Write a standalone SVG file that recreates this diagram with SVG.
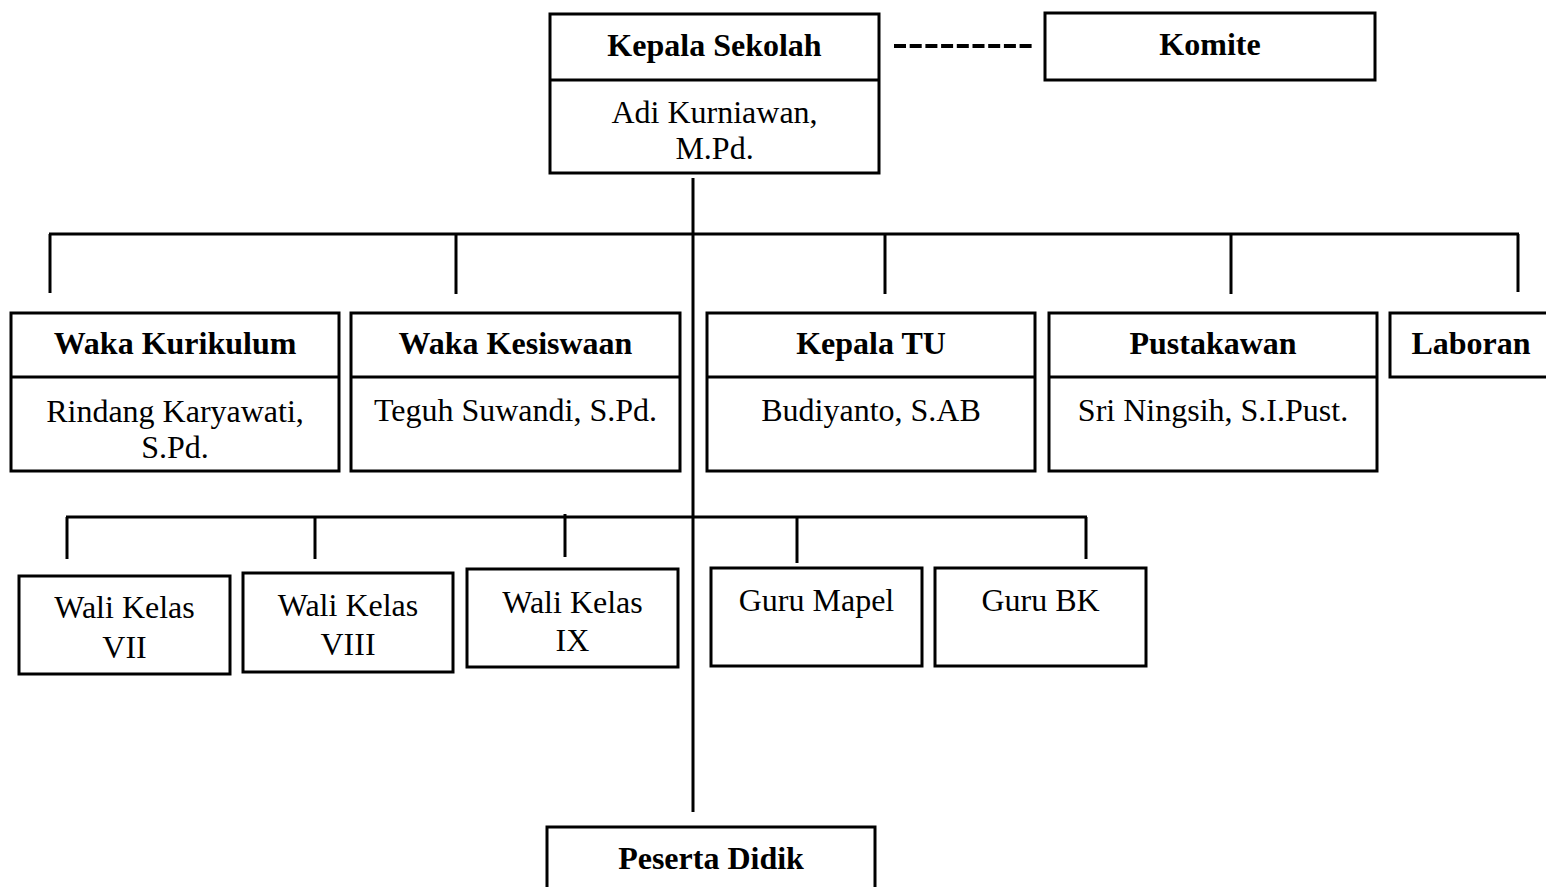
<svg xmlns="http://www.w3.org/2000/svg" width="1546" height="887" viewBox="0 0 1546 887">
<style>
.box{fill:#fff;stroke:#000;stroke-width:3}
.ln{stroke:#000;stroke-width:3;fill:none}
.b{font-family:"Liberation Serif","Times New Roman",serif;font-weight:bold;font-size:32px;text-anchor:middle;fill:#000}
.r{font-family:"Liberation Serif","Times New Roman",serif;font-size:32px;text-anchor:middle;fill:#000}
</style>
<rect width="1546" height="887" fill="#fff"/>
<g id="connectors">
<line class="ln" x1="693" y1="178" x2="693" y2="812"/>
<line class="ln" x1="49" y1="234" x2="1519" y2="234"/>
<line class="ln" x1="50" y1="234" x2="50" y2="293"/>
<line class="ln" x1="456" y1="234" x2="456" y2="294"/>
<line class="ln" x1="885" y1="234" x2="885" y2="294"/>
<line class="ln" x1="1231" y1="234" x2="1231" y2="294"/>
<line class="ln" x1="1518" y1="234" x2="1518" y2="292"/>
<line class="ln" x1="66" y1="517" x2="1087" y2="517"/>
<line class="ln" x1="67" y1="517" x2="67" y2="559"/>
<line class="ln" x1="315" y1="517" x2="315" y2="559"/>
<line class="ln" x1="565" y1="514" x2="565" y2="557"/>
<line class="ln" x1="797" y1="517" x2="797" y2="563"/>
<line class="ln" x1="1086" y1="517" x2="1086" y2="559"/>
<line x1="894" y1="46" x2="1033" y2="46" stroke="#000" stroke-width="4" stroke-dasharray="12 3.7"/>
</g>
<g id="kepala-sekolah">
<rect class="box" x="550" y="14" width="329" height="159"/>
<line class="ln" x1="550" y1="80" x2="879" y2="80"/>
<text class="b" x="714.5" y="56">Kepala Sekolah</text>
<text class="r" x="714.5" y="123">Adi Kurniawan,</text>
<text class="r" x="714.5" y="159">M.Pd.</text>
</g>
<g id="komite">
<rect class="box" x="1045" y="13" width="330" height="67"/>
<text class="b" x="1210" y="55">Komite</text>
</g>
<g id="waka-kurikulum">
<rect class="box" x="11" y="313" width="328" height="158"/>
<line class="ln" x1="11" y1="377" x2="339" y2="377"/>
<text class="b" x="175" y="354">Waka Kurikulum</text>
<text class="r" x="175" y="422">Rindang Karyawati,</text>
<text class="r" x="175" y="458">S.Pd.</text>
</g>
<g id="waka-kesiswaan">
<rect class="box" x="351" y="313" width="329" height="158"/>
<line class="ln" x1="351" y1="377" x2="680" y2="377"/>
<text class="b" x="515.5" y="354">Waka Kesiswaan</text>
<text class="r" x="515.5" y="421">Teguh Suwandi, S.Pd.</text>
</g>
<g id="kepala-tu">
<rect class="box" x="707" y="313" width="328" height="158"/>
<line class="ln" x1="707" y1="377" x2="1035" y2="377"/>
<text class="b" x="871" y="354">Kepala TU</text>
<text class="r" x="871" y="421">Budiyanto, S.AB</text>
</g>
<g id="pustakawan">
<rect class="box" x="1049" y="313" width="328" height="158"/>
<line class="ln" x1="1049" y1="377" x2="1377" y2="377"/>
<text class="b" x="1213" y="354">Pustakawan</text>
<text class="r" x="1213" y="421">Sri Ningsih, S.I.Pust.</text>
</g>
<g id="laboran">
<rect class="box" x="1390" y="313" width="164" height="64"/>
<text class="b" x="1471" y="354">Laboran</text>
</g>
<g id="wali-kelas-vii">
<rect class="box" x="19" y="576" width="211" height="98"/>
<text class="r" x="124.5" y="618">Wali Kelas</text>
<text class="r" x="124.5" y="658">VII</text>
</g>
<g id="wali-kelas-viii">
<rect class="box" x="243" y="573" width="210" height="99"/>
<text class="r" x="348" y="616">Wali Kelas</text>
<text class="r" x="348" y="655">VIII</text>
</g>
<g id="wali-kelas-ix">
<rect class="box" x="467" y="569" width="211" height="98"/>
<text class="r" x="572.5" y="613">Wali Kelas</text>
<text class="r" x="572.5" y="651">IX</text>
</g>
<g id="guru-mapel">
<rect class="box" x="711" y="568" width="211" height="98"/>
<text class="r" x="816.5" y="611">Guru Mapel</text>
</g>
<g id="guru-bk">
<rect class="box" x="935" y="568" width="211" height="98"/>
<text class="r" x="1040.5" y="611">Guru BK</text>
</g>
<g id="peserta-didik">
<rect class="box" x="547" y="827" width="328" height="70"/>
<text class="b" x="711" y="869">Peserta Didik</text>
</g>
</svg>
